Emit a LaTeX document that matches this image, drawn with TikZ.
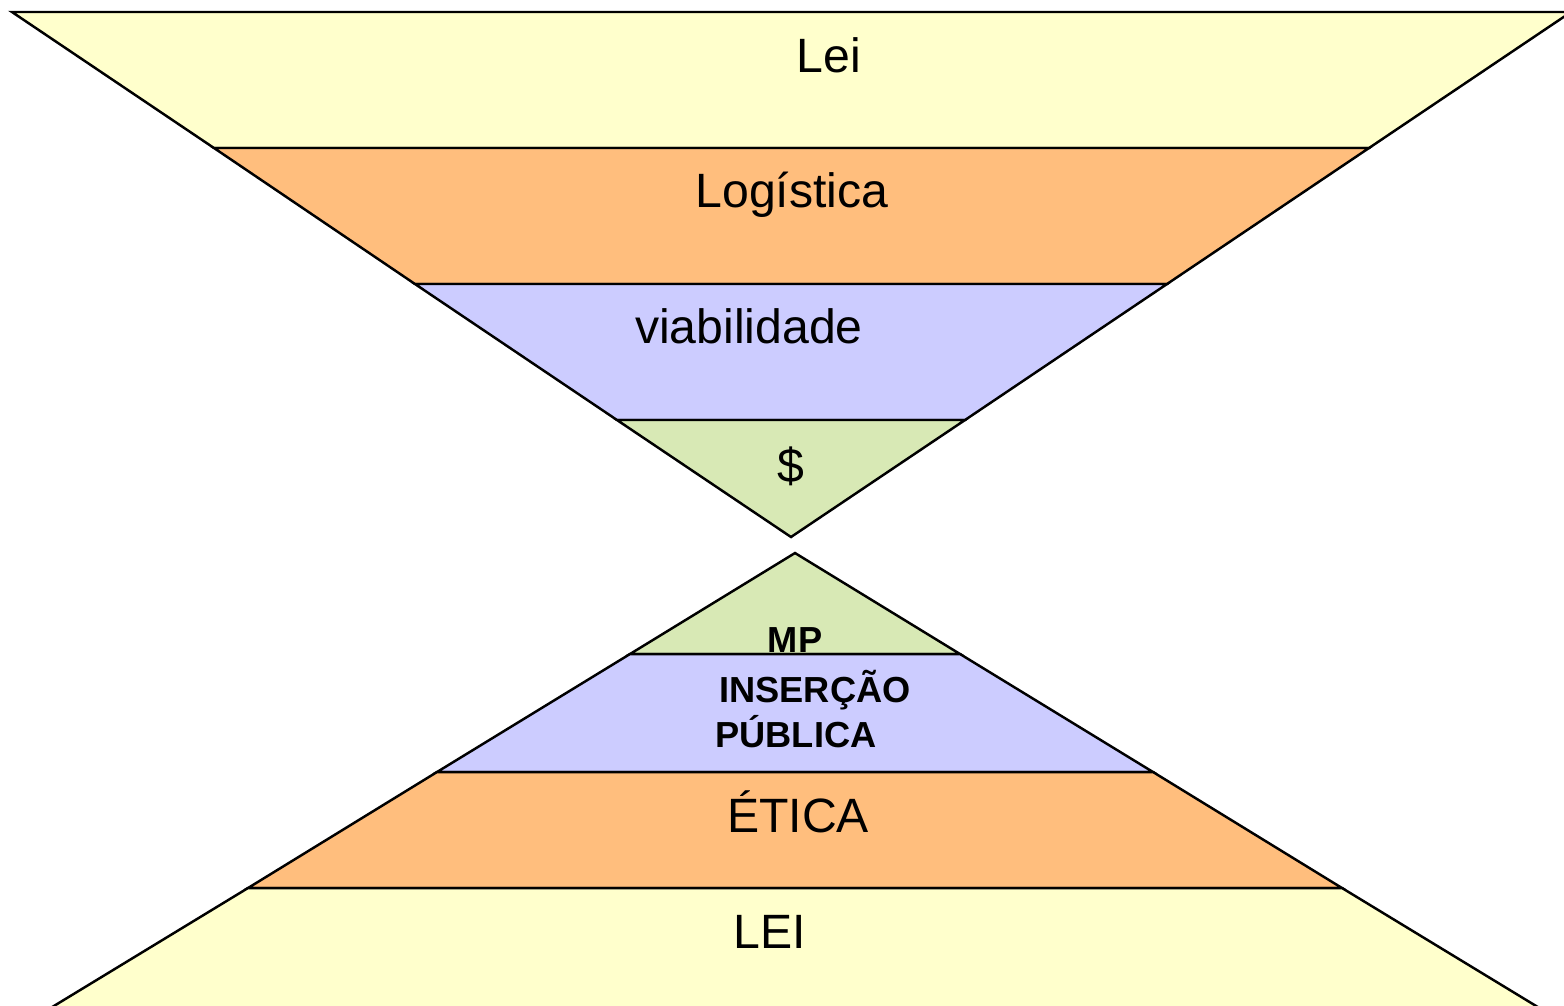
\documentclass[tikz,border=0pt]{standalone}
\usepackage{fontspec}
\setmainfont{Liberation Sans}
\usetikzlibrary{calc}

\definecolor{leiyellow}{HTML}{FFFFCC}
\definecolor{logorange}{HTML}{FFBE7D}
\definecolor{viablue}{HTML}{CCCCFF}
\definecolor{mpgreen}{HTML}{D8E9B5}

\begin{document}
\begin{tikzpicture}[x=0.01cm, y=-0.01cm, line width=0.7pt,
	band/.style={draw=black, line join=miter},
	bigtext/.style={font=\fontsize{13.7}{16}\selectfont, anchor=base, inner sep=0pt},
	boldtext/.style={font=\fontsize{10.3}{12}\selectfont\bfseries, anchor=base, inner sep=0pt}]
	\useasboundingbox (0,0) rectangle (1564,1005);
	\clip (0,0) rectangle (1564,1005);
	% upper funnel
	\coordinate (TL) at (12,12);
	\coordinate (TR) at (1571,12);
	\coordinate (T1L) at (214,148);
	\coordinate (T1R) at (1369,148);
	\coordinate (T2L) at (415,284);
	\coordinate (T2R) at (1167,284);
	\coordinate (T3L) at (617,420);
	\coordinate (T3R) at (965,420);
	\coordinate (Tapex) at (791,537);
	\filldraw[band, fill=leiyellow] (TL) -- (TR) -- (T1R) -- (T1L) -- cycle;
	\filldraw[band, fill=logorange] (T1L) -- (T1R) -- (T2R) -- (T2L) -- cycle;
	\filldraw[band, fill=viablue] (T2L) -- (T2R) -- (T3R) -- (T3L) -- cycle;
	\filldraw[band, fill=mpgreen] (T3L) -- (T3R) -- (Tapex) -- cycle;
	% lower pyramid
	\coordinate (Bapex) at (795,553);
	\coordinate (B1L) at (630,654);
	\coordinate (B1R) at (960,654);
	\coordinate (B2L) at (437,772);
	\coordinate (B2R) at (1153,772);
	\coordinate (B3L) at (248,888);
	\coordinate (B3R) at (1342,888);
	\coordinate (BL) at (44,1012);
	\coordinate (BR) at (1546,1012);
	\filldraw[band, fill=mpgreen] (Bapex) -- (B1R) -- (B1L) -- cycle;
	\filldraw[band, fill=viablue] (B1L) -- (B1R) -- (B2R) -- (B2L) -- cycle;
	\filldraw[band, fill=logorange] (B2L) -- (B2R) -- (B3R) -- (B3L) -- cycle;
	\filldraw[band, fill=leiyellow] (B3L) -- (B3R) -- (BR) -- (BL) -- cycle;
	% labels
	\node[bigtext] (lei) at (829,72) {Lei};
	\node[bigtext] (logistica) at (792,207) {Logística};
	\node[bigtext] (viab) at (749,343) {viabilidade};
	\node[bigtext] (dinheiro) at (791,482) {\$};
	\node[boldtext] (mp) at (795,652) {MP};
	\node[boldtext] (insercao) at (815,702) {INSERÇÃO};
	\node[boldtext] (publica) at (796,747) {PÚBLICA};
	\node[bigtext] (etica) at (798,832) {ÉTICA};
	\node[bigtext] (leibaixo) at (770,948) {LEI};
\end{tikzpicture}
\end{document}
